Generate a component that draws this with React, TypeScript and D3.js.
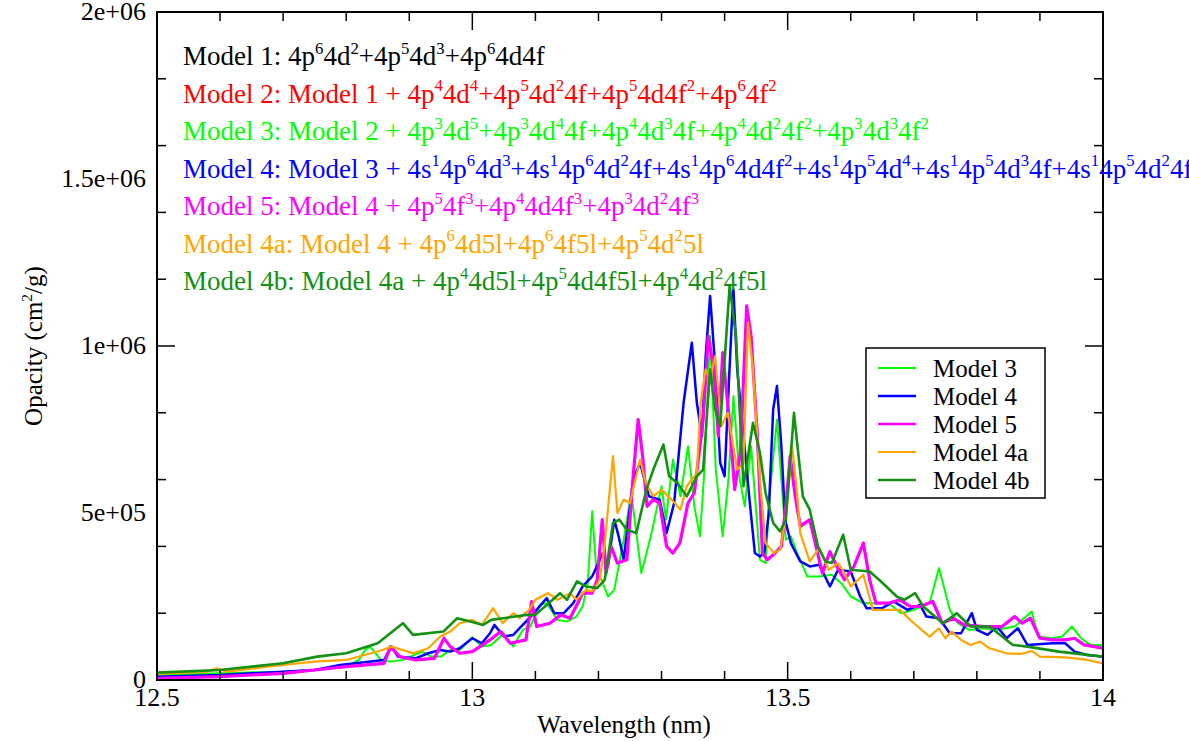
import { useEffect, useRef } from "react";
import * as d3 from "d3";

// opacity values are in units of 1e5 cm^2/g, wavelength in nm
const MODEL_3: [number, number][] = [
  [12.5, 0.15], [12.6, 0.2], [12.7, 0.25], [12.75, 0.3], [12.8, 0.4], [12.82, 0.6], [12.83, 0.9], [12.838, 1.0],
  [12.855, 0.6], [12.87, 0.55], [12.89, 0.6], [12.92, 0.85], [12.935, 0.7], [12.95, 0.7], [12.965, 0.9], [12.98, 0.9],
  [13.0, 1.28], [13.015, 1.0], [13.03, 1.05], [13.05, 1.4], [13.065, 1.0], [13.08, 1.5], [13.092, 1.6], [13.107, 2.25],
  [13.118, 2.3], [13.135, 1.8], [13.15, 1.75], [13.165, 1.9], [13.175, 2.2], [13.183, 2.9], [13.19, 5.05], [13.197, 3.2],
  [13.205, 3.0], [13.215, 2.5], [13.225, 2.7], [13.24, 4.2], [13.252, 5.6], [13.268, 3.2], [13.283, 4.3], [13.3, 5.8],
  [13.307, 4.8], [13.318, 6.6], [13.33, 5.5], [13.342, 7.0], [13.352, 5.2], [13.361, 4.3], [13.368, 6.3], [13.377, 10.3],
  [13.386, 6.3], [13.397, 4.3], [13.406, 6.0], [13.414, 8.5], [13.424, 6.0], [13.432, 5.2], [13.442, 7.0], [13.456, 3.6],
  [13.465, 3.5], [13.472, 5.7], [13.483, 7.8], [13.49, 6.0], [13.497, 4.2], [13.505, 4.3], [13.515, 3.8], [13.531, 3.1],
  [13.55, 3.1], [13.57, 3.15], [13.585, 2.9], [13.6, 2.5], [13.62, 2.3], [13.66, 2.3], [13.68, 2.0], [13.7, 2.1],
  [13.725, 2.3], [13.74, 3.35], [13.757, 2.1], [13.77, 1.7], [13.788, 1.5], [13.81, 1.55], [13.83, 1.5], [13.86, 1.6],
  [13.887, 2.05], [13.897, 1.3], [13.92, 1.25], [13.935, 1.3], [13.951, 1.6], [13.965, 1.25], [13.98, 1.05], [14.0, 1.05],
];

const MODEL_4: [number, number][] = [
  [12.5, 0.1], [12.6, 0.15], [12.7, 0.25], [12.75, 0.3], [12.79, 0.45], [12.86, 0.6], [12.872, 1.0], [12.882, 0.7],
  [12.91, 0.65], [12.93, 0.8], [12.949, 0.9], [12.965, 0.85], [12.98, 0.95], [13.0, 1.25], [13.015, 1.1], [13.028, 1.4],
  [13.035, 1.65], [13.05, 1.3], [13.065, 1.35], [13.075, 1.55], [13.085, 1.75], [13.095, 1.95], [13.118, 2.45], [13.13, 2.0],
  [13.145, 2.0], [13.16, 2.3], [13.175, 2.8], [13.19, 3.1], [13.207, 3.8], [13.215, 3.4], [13.225, 4.8], [13.232, 4.3],
  [13.24, 3.6], [13.255, 6.0], [13.266, 6.5], [13.28, 5.5], [13.297, 5.4], [13.308, 4.4], [13.32, 5.3], [13.335, 8.3],
  [13.348, 10.1], [13.356, 8.3], [13.364, 7.3], [13.37, 9.7], [13.377, 11.5], [13.385, 9.4], [13.393, 6.5], [13.4, 6.1],
  [13.407, 9.0], [13.414, 11.7], [13.42, 9.3], [13.43, 7.3], [13.44, 5.3], [13.448, 3.8], [13.456, 3.7], [13.463, 3.8],
  [13.47, 5.0], [13.477, 8.1], [13.483, 8.8], [13.49, 7.0], [13.496, 4.8], [13.505, 4.1], [13.52, 3.55], [13.535, 3.4],
  [13.55, 3.45], [13.567, 2.8], [13.58, 3.3], [13.6, 3.25], [13.615, 2.5], [13.625, 2.15], [13.65, 2.15], [13.668, 2.35],
  [13.69, 2.1], [13.71, 2.25], [13.72, 1.9], [13.74, 1.85], [13.757, 1.4], [13.775, 1.4], [13.792, 2.0], [13.8, 1.5],
  [13.817, 1.35], [13.832, 1.6], [13.847, 1.25], [13.865, 1.55], [13.88, 1.05], [13.92, 1.1], [13.94, 1.1], [13.955, 0.85],
  [13.975, 0.75], [14.0, 0.7],
];

const MODEL_5: [number, number][] = [
  [12.5, 0.05], [12.6, 0.1], [12.7, 0.2], [12.75, 0.3], [12.8, 0.4], [12.86, 0.5], [12.87, 1.0], [12.885, 0.7],
  [12.91, 0.6], [12.94, 0.65], [12.955, 1.25], [12.965, 1.0], [12.98, 0.8], [13.0, 0.85], [13.028, 1.2], [13.045, 1.45],
  [13.06, 1.1], [13.085, 1.2], [13.094, 2.35], [13.102, 1.6], [13.123, 1.7], [13.14, 1.95], [13.155, 1.85], [13.175, 2.6],
  [13.19, 2.6], [13.198, 3.0], [13.206, 4.8], [13.212, 3.2], [13.22, 4.0], [13.23, 3.5], [13.245, 3.6], [13.255, 6.1],
  [13.263, 7.8], [13.27, 6.7], [13.277, 5.2], [13.287, 5.4], [13.297, 5.3], [13.308, 4.0], [13.318, 3.8], [13.329, 4.1],
  [13.342, 5.3], [13.352, 5.6], [13.366, 7.8], [13.374, 10.3], [13.383, 9.3], [13.39, 7.3], [13.397, 9.8], [13.408, 7.7],
  [13.416, 5.7], [13.425, 6.8], [13.435, 11.2], [13.442, 10.3], [13.452, 7.3], [13.46, 3.8], [13.468, 3.6], [13.48, 3.8],
  [13.49, 4.0], [13.497, 5.2], [13.504, 6.7], [13.512, 5.5], [13.52, 4.6], [13.535, 4.8], [13.545, 4.0], [13.555, 3.2],
  [13.567, 3.85], [13.578, 3.4], [13.59, 3.0], [13.605, 3.4], [13.62, 4.1], [13.63, 3.0], [13.64, 2.3], [13.66, 2.3],
  [13.678, 2.4], [13.695, 2.2], [13.71, 2.2], [13.73, 2.35], [13.745, 1.7], [13.762, 1.85], [13.78, 1.65], [13.81, 1.6],
  [13.84, 1.6], [13.86, 1.9], [13.872, 1.7], [13.885, 1.85], [13.9, 1.25], [13.92, 1.2], [13.94, 1.2], [13.955, 1.25],
  [13.97, 1.05], [14.0, 0.95],
];

const MODEL_4A: [number, number][] = [
  [12.5, 0.18], [12.58, 0.25], [12.595, 0.35], [12.61, 0.25], [12.7, 0.45], [12.75, 0.55], [12.8, 0.6], [12.858, 0.9],
  [12.872, 1.0], [12.906, 0.8], [12.93, 0.95], [12.949, 1.3], [12.965, 1.45], [12.98, 1.7], [13.0, 1.8], [13.015, 1.65],
  [13.033, 2.15], [13.048, 1.7], [13.065, 2.0], [13.075, 1.85], [13.09, 2.1], [13.1, 2.4], [13.12, 2.6], [13.135, 2.4],
  [13.155, 2.6], [13.165, 2.4], [13.18, 2.7], [13.19, 2.65], [13.202, 3.0], [13.21, 4.1], [13.223, 6.7], [13.23, 5.0],
  [13.24, 5.4], [13.25, 5.3], [13.266, 6.6], [13.275, 5.9], [13.287, 5.5], [13.3, 5.7], [13.316, 5.4], [13.33, 5.1],
  [13.34, 5.8], [13.356, 6.2], [13.362, 8.3], [13.37, 9.3], [13.377, 9.0], [13.385, 9.7], [13.395, 7.6], [13.405, 8.0],
  [13.42, 6.3], [13.43, 6.5], [13.437, 10.7], [13.445, 9.3], [13.456, 6.0], [13.465, 4.1], [13.478, 3.8], [13.488, 3.9],
  [13.498, 5.0], [13.507, 7.0], [13.514, 5.8], [13.52, 4.4], [13.535, 3.55], [13.55, 3.95], [13.565, 3.3], [13.58, 3.5],
  [13.59, 3.2], [13.6, 2.8], [13.62, 3.15], [13.635, 2.1], [13.66, 2.1], [13.678, 2.1], [13.7, 1.7], [13.725, 1.3],
  [13.74, 1.55], [13.75, 1.25], [13.76, 1.45], [13.775, 1.2], [13.79, 1.05], [13.805, 1.15], [13.82, 0.95], [13.847, 0.8],
  [13.87, 0.78], [13.887, 0.87], [13.9, 0.7], [13.94, 0.68], [13.97, 0.62], [14.0, 0.5],
];

const MODEL_4B: [number, number][] = [
  [12.5, 0.22], [12.6, 0.3], [12.7, 0.5], [12.754, 0.7], [12.8, 0.8], [12.85, 1.1], [12.89, 1.7], [12.906, 1.35],
  [12.954, 1.45], [12.976, 1.85], [12.997, 1.75], [13.017, 1.65], [13.03, 1.8], [13.049, 1.85], [13.086, 1.95], [13.1, 1.95],
  [13.139, 2.6], [13.15, 2.4], [13.166, 2.95], [13.18, 2.8], [13.198, 2.75], [13.21, 3.0], [13.223, 4.7], [13.233, 4.8],
  [13.245, 4.5], [13.26, 4.4], [13.276, 5.7], [13.287, 6.3], [13.303, 7.05], [13.312, 6.1], [13.325, 5.9], [13.34, 5.5],
  [13.356, 6.1], [13.366, 6.3], [13.377, 9.3], [13.385, 8.1], [13.393, 7.6], [13.408, 11.8], [13.418, 10.3], [13.43, 5.8],
  [13.445, 7.7], [13.456, 6.8], [13.465, 5.6], [13.477, 4.7], [13.488, 4.45], [13.497, 4.8], [13.51, 8.0], [13.524, 5.5],
  [13.535, 5.1], [13.548, 4.0], [13.56, 3.55], [13.57, 3.5], [13.588, 4.35], [13.6, 3.3], [13.63, 3.25], [13.645, 3.0],
  [13.673, 2.5], [13.685, 2.4], [13.702, 2.6], [13.715, 2.2], [13.746, 1.7], [13.768, 2.0], [13.79, 1.6], [13.82, 1.6],
  [13.857, 1.05], [13.88, 1.0], [13.93, 0.85], [14.0, 0.7],
];

const SERIES_NAMES = ["Model 3", "Model 4", "Model 5", "Model 4a", "Model 4b"];
const SERIES_DATA = [MODEL_3, MODEL_4, MODEL_5, MODEL_4A, MODEL_4B];
const SERIES_COLORS = ["#00ff00", "#0000ff", "#ff00ff", "#ffa500", "#129112"];
const SERIES_WIDTHS = [2, 2.5, 3.2, 2.2, 2.6];

const X_TICKS = [12.5, 13, 13.5, 14];
const X_TICK_LABELS = ["12.5", "13", "13.5", "14"];
const Y_TICKS = [0, 5, 10, 15, 20];
const Y_TICK_LABELS = ["0", "5e+05", "1e+06", "1.5e+06", "2e+06"];

// configuration notes; ^{..} marks a superscript
const NOTE_TEXTS = [
  "Model 1: 4p^{6}4d^{2}+4p^{5}4d^{3}+4p^{6}4d4f",
  "Model 2: Model 1 + 4p^{4}4d^{4}+4p^{5}4d^{2}4f+4p^{5}4d4f^{2}+4p^{6}4f^{2}",
  "Model 3: Model 2 + 4p^{3}4d^{5}+4p^{3}4d^{4}4f+4p^{4}4d^{3}4f+4p^{4}4d^{2}4f^{2}+4p^{3}4d^{3}4f^{2}",
  "Model 4: Model 3 + 4s^{1}4p^{6}4d^{3}+4s^{1}4p^{6}4d^{2}4f+4s^{1}4p^{6}4d4f^{2}+4s^{1}4p^{5}4d^{4}+4s^{1}4p^{5}4d^{3}4f+4s^{1}4p^{5}4d^{2}4f",
  "Model 5: Model 4 + 4p^{5}4f^{3}+4p^{4}4d4f^{3}+4p^{3}4d^{2}4f^{3}",
  "Model 4a: Model 4 + 4p^{6}4d5l+4p^{6}4f5l+4p^{5}4d^{2}5l",
  "Model 4b: Model 4a + 4p^{4}4d5l+4p^{5}4d4f5l+4p^{4}4d^{2}4f5l",
];
const NOTE_COLORS = ["#000000", "#ff0000", "#00ff00", "#0000ff", "#ff00ff", "#ffa500", "#129112"];

const W = 1189;
const H = 741;
const FONT = "Liberation Serif, DejaVu Serif, serif";

function richText(
  parent: d3.Selection<SVGGElement, unknown, null, undefined>,
  str: string,
  x: number,
  y: number,
  size: number,
  color: string
) {
  const t = parent
    .append("text")
    .attr("x", x)
    .attr("y", y)
    .attr("fill", color)
    .attr("font-family", FONT)
    .attr("font-size", size)
    .style("white-space", "pre");
  const parts = str.split(/(\^\{[^}]*\})/).filter((p) => p.length > 0);
  const rise = size * 0.42;
  let up = false;
  parts.forEach((p) => {
    if (p.startsWith("^{")) {
      t.append("tspan")
        .attr("dy", up ? 0 : -rise)
        .attr("font-size", size * 0.62)
        .text(p.slice(2, -1));
      up = true;
    } else {
      t.append("tspan").attr("dy", up ? rise : 0).text(p);
      up = false;
    }
  });
  return t;
}

export default function App() {
  const svgRef = useRef<SVGSVGElement | null>(null);

  useEffect(() => {
    const svg = svgRef.current;
    if (!svg) return;
    svg.innerHTML = "";

    const left = 157, right = 1103, top = 12, bottom = 680;

    const x = d3.scaleLinear().domain([12.5, 14]).range([left, right]);
    const y = d3.scaleLinear().domain([0, 20]).range([bottom, top]);

    const root = d3.select(svg).append("g");

    // spectra
    const line = d3
      .line<[number, number]>()
      .x((d) => x(d[0]))
      .y((d) => y(d[1]));

    SERIES_DATA.forEach((data, i) => {
      root
        .append("path")
        .datum(data)
        .attr("d", line)
        .attr("fill", "none")
        .attr("stroke", SERIES_COLORS[i])
        .attr("stroke-width", SERIES_WIDTHS[i])
        .attr("stroke-linejoin", "round");
    });

    // frame
    root
      .append("rect")
      .attr("x", left)
      .attr("y", top)
      .attr("width", right - left)
      .attr("height", bottom - top)
      .attr("fill", "none")
      .attr("stroke", "#000")
      .attr("stroke-width", 2);

    // ticks (inward, on all four sides)
    const ticks = root.append("g").attr("stroke", "#000").attr("stroke-width", 1.5);
    const MAJ = 18, MIN = 9;
    x.ticks(15).forEach((v) => {
      const major = X_TICKS.some((t) => Math.abs(t - v) < 1e-6);
      const len = major ? MAJ : MIN;
      ticks.append("line").attr("x1", x(v)).attr("x2", x(v)).attr("y1", bottom).attr("y2", bottom - len);
      ticks.append("line").attr("x1", x(v)).attr("x2", x(v)).attr("y1", top).attr("y2", top + len);
    });
    y.ticks(8).forEach((v) => {
      const major = Y_TICKS.some((t) => Math.abs(t - v) < 1e-6);
      const len = major ? MAJ : MIN;
      ticks.append("line").attr("x1", left).attr("x2", left + len).attr("y1", y(v)).attr("y2", y(v));
      ticks.append("line").attr("x1", right).attr("x2", right - len).attr("y1", y(v)).attr("y2", y(v));
    });

    const label = (tx: number, ty: number, s: string, anchor: string, size = 26) =>
      root
        .append("text")
        .attr("x", tx)
        .attr("y", ty)
        .attr("text-anchor", anchor)
        .attr("font-family", FONT)
        .attr("font-size", size)
        .text(s);

    // tick labels
    X_TICKS.forEach((v, i) => label(x(v), 706, X_TICK_LABELS[i], "middle"));
    Y_TICKS.forEach((v, i) => label(146, y(v) + 8, Y_TICK_LABELS[i], "end"));

    // axis titles
    label((left + right) / 2 - 6, 733, "Wavelength (nm)", "middle", 25);

    const yTitle = root
      .append("g")
      .attr("transform", `translate(42,${(top + bottom) / 2}) rotate(-90)`);
    richText(yTitle, "Opacity (cm^{2}/g)", 0, 0, 25, "#000").attr("text-anchor", "middle");

    // configuration notes
    NOTE_TEXTS.forEach((s, i) => {
      richText(root, s, 183, 65 + i * 37.5, 27, NOTE_COLORS[i]);
    });

    // legend
    const lg = root.append("g");
    lg.append("rect")
      .attr("x", 866)
      .attr("y", 348)
      .attr("width", 179)
      .attr("height", 150)
      .attr("fill", "#fff")
      .attr("stroke", "#000")
      .attr("stroke-width", 1.5);
    SERIES_NAMES.forEach((name, i) => {
      const ry = 368 + i * 28;
      lg.append("line")
        .attr("x1", 878)
        .attr("x2", 916)
        .attr("y1", ry)
        .attr("y2", ry)
        .attr("stroke", SERIES_COLORS[i])
        .attr("stroke-width", Math.min(SERIES_WIDTHS[i], 2.6));
      lg.append("text")
        .attr("x", 933)
        .attr("y", ry + 9)
        .attr("font-family", FONT)
        .attr("font-size", 25)
        .text(name);
    });
  }, []);

  return (
    <svg
      ref={svgRef}
      width={W}
      height={H}
      style={{ position: "absolute", left: 0, top: 0, background: "#fff" }}
    />
  );
}
